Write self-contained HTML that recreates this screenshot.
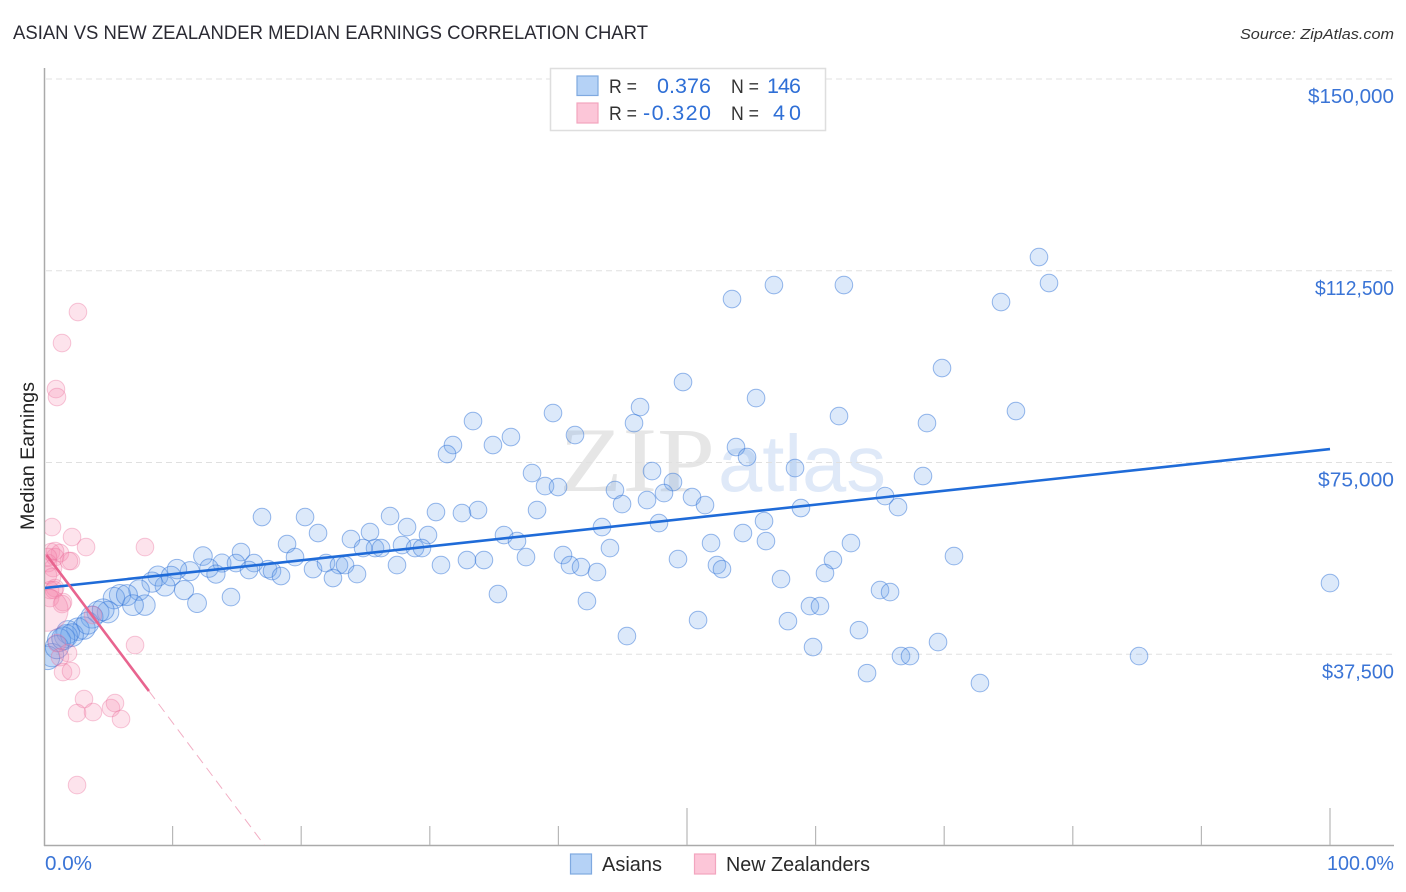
<!DOCTYPE html>
<html>
<head>
<meta charset="utf-8">
<title>Asian vs New Zealander Median Earnings Correlation Chart</title>
<style>
html,body{margin:0;padding:0;background:#fff;}
svg{display:block;font-family:"Liberation Sans",sans-serif;}
</style>
</head>
<body>
<svg id="chart" xmlns="http://www.w3.org/2000/svg" width="1406" height="892" viewBox="0 0 1406 892">
  <defs>
    <clipPath id="plot-clip"><rect x="45" y="60" width="1349" height="785"/></clipPath>
  </defs>
  <rect x="0" y="0" width="1406" height="892" fill="#fff"/>
  <text x="13" y="39" font-size="19" fill="#2a2a33" textLength="635" lengthAdjust="spacingAndGlyphs">ASIAN VS NEW ZEALANDER MEDIAN EARNINGS CORRELATION CHART</text>
  <text x="1394" y="39" font-size="15" font-style="italic" fill="#333" text-anchor="end" textLength="154" lengthAdjust="spacingAndGlyphs">Source: ZipAtlas.com</text>
  <text x="559" y="491" font-family="'Liberation Serif',serif" font-size="92" fill="#e6e6e6" textLength="156" lengthAdjust="spacingAndGlyphs">ZIP</text>
  <text x="718" y="491" font-size="80" fill="#dfe9f8" textLength="168" lengthAdjust="spacingAndGlyphs">atlas</text>
  <g id="grid"></g>
  <g id="axes"></g>
  <g id="marks" clip-path="url(#plot-clip)"></g>
  <g id="ylabels"></g>
  <text x="0" y="0" transform="translate(34,456) rotate(-90)" font-size="19" fill="#222" text-anchor="middle" textLength="148" lengthAdjust="spacingAndGlyphs">Median Earnings</text>
  <text x="45" y="870" font-size="20" fill="#3a74d6" textLength="47" lengthAdjust="spacingAndGlyphs">0.0%</text>
  <text x="1394" y="870" font-size="20" fill="#3a74d6" text-anchor="end" textLength="67" lengthAdjust="spacingAndGlyphs">100.0%</text>

  <g>
    <rect x="550.5" y="68.5" width="275" height="62" fill="#fff" stroke="#dedede" stroke-width="1.5"/>
    <rect x="577" y="76" width="21" height="19.5" fill="#b5d2f6" stroke="#7fa9e0" stroke-width="1.2"/>
    <rect x="577" y="103" width="21" height="20" fill="#fcc6d8" stroke="#f2a5bf" stroke-width="1.2"/>
    <text x="609" y="93" font-size="19" fill="#333" textLength="28" lengthAdjust="spacingAndGlyphs">R =</text>
    <text x="711" y="93" font-size="21.5" fill="#2f6fd6" text-anchor="end" textLength="54" lengthAdjust="spacing">0.376</text>
    <text x="731" y="93" font-size="19" fill="#333" textLength="28" lengthAdjust="spacingAndGlyphs">N =</text>
    <text x="801" y="93" font-size="21.5" fill="#2f6fd6" text-anchor="end" textLength="34" lengthAdjust="spacing">146</text>
    <text x="609" y="120" font-size="19" fill="#333" textLength="28" lengthAdjust="spacingAndGlyphs">R =</text>
    <text x="711" y="120" font-size="21.5" fill="#2f6fd6" text-anchor="end" textLength="68" lengthAdjust="spacing">-0.320</text>
    <text x="731" y="120" font-size="19" fill="#333" textLength="28" lengthAdjust="spacingAndGlyphs">N =</text>
    <text x="801" y="120" font-size="21.5" fill="#2f6fd6" text-anchor="end" textLength="28" lengthAdjust="spacing">40</text>
  </g>

  <g>
    <rect x="570.5" y="854" width="21" height="20" fill="#b5d2f6" stroke="#7fa9e0" stroke-width="1.2"/>
    <text x="602" y="871" font-size="20" fill="#2a2a2a" textLength="60" lengthAdjust="spacingAndGlyphs">Asians</text>
    <rect x="694.5" y="854" width="21" height="20" fill="#fcc6d8" stroke="#f2a5bf" stroke-width="1.2"/>
    <text x="726" y="871" font-size="20" fill="#2a2a2a" textLength="144" lengthAdjust="spacingAndGlyphs">New Zealanders</text>
  </g>
</svg>
<script>
// Axis values
const yTickValues = [150, 112.5, 75, 37.5];
const yTickLabels = ["$150,000", "$112,500", "$75,000", "$37,500"];
const xTickValues = [0, 10, 20, 30, 40, 50, 60, 70, 80, 90, 100];
const xMajorTicks = [50, 100];

// Asians series: share of Asian residents (%) and median earnings ($ thousands)
const asianX = [77.37,78.15,74.42,62.2,56.76,53.5,69.83,49.69,55.37,75.58,61.82,68.66,46.35,45.88,39.58,33.36,36.31,34.91,31.8,31.34,41.29,53.81,54.67,58.4,68.35,37.95,38.96,39.97,44.4,47.28,48.91,50.39,46.89,48.21,44.95,51.4,65.4,66.41,58.86,38.34,33.75,32.5,30.48,26.91,20.3,16.95,28.23,25.35,21.31,29.86,35.77,43.39,47.82,55.99,54.35,56.14,62.75,51.87,36.78,23.87,18.9,44.01,70.76,61.35,49.3,40.36,37.48,32.89,34.21,30.87,27.45,25.74,26.21,24.81,27.84,28.85,29.39,19.52,15.32,12.36,13.84,16.33,14.93,15.94,12.83,11.35,10.34,8.86,9.88,17.42,17.73,18.43,20.92,21.93,22.94,23.41,24.34,22.47,40.9,41.76,43,52.33,52.72,60.73,57.31,65.01,65.79,100,35.3,42.22,59.56,60.34,50.86,57.85,63.37,45.33,69.52,59.8,66.64,67.34,85.15,64,72.78,13.37,10.89,9.41,8.4,7.39,5.91,5.44,6.45,11.9,14.54,7.85,6.92,4.98,4.2,3.73,3.11,2.64,1.87,1.71,2.18,1.17,0.62,0.3,1.0,1.5,3.4,4.6];
const asianY = [115.18,110.1,106.38,109.71,109.71,106.97,93.47,90.73,87.6,85.06,84.08,82.71,85.84,82.71,84.67,83.1,79.98,78.41,78.41,76.65,80.37,78.02,76.06,73.91,72.35,72.93,70.39,70.2,69.61,73.32,71.17,68.24,67.65,69.02,66.87,66.67,68.43,66.28,66.09,65.7,65.7,65.11,65.31,64.52,64.33,64.33,62.37,61.39,61.2,60.81,60.81,62.37,63.15,63.54,61.2,59.63,59.24,59.24,59.63,60.02,59.05,58.26,56.7,55.92,56.11,56.9,56.5,55.92,55.92,54.94,54.94,58.26,58.26,58.26,58.85,58.26,58.26,56.5,57.48,56.7,55.33,55.33,55.33,53.96,54.35,53.76,54.15,52.79,52.79,54.15,53.76,52.79,54.15,55.33,54.94,54.94,53.18,52.4,54.94,54.55,53.57,54.94,54.15,53.37,52.2,50.05,49.66,51.42,49.27,47.9,46.92,46.92,44.18,43.98,42.22,41.05,39.88,38.9,37.14,37.14,37.14,33.81,31.86,53.18,50.05,50.83,51.61,50.05,49.07,48.48,49.07,47.51,48.68,47.11,47.11,45.75,45.75,44.77,42.62,42.42,41.83,41.05,41.25,40.27,37.33,36.8,38.9,40.6,43.6,46.2];

// New Zealanders series
const nzX = [2.64,1.4,0.93,1.01,0.62,2.18,3.27,7.85,0.54,1.24,0.86,0.86,2.1,1.94,0.31,0.7,0.62,0.31,0.86,0.47,0.78,0.47,1.48,1.4,0.23,3.81,7.08,1.01,1.87,1.24,1.48,2.1,3.11,2.57,3.81,5.21,5.52,5.99,2.57,0.31];
const nzY = [104.43,98.36,89.36,87.8,62.37,60.42,58.46,58.46,57.48,57.29,57.68,56.5,55.72,55.72,55.33,54.35,52.59,52.98,50.44,50.05,50.05,48.48,47.7,47.31,46.13,45.16,39.29,39.68,37.73,36.94,34.01,34.2,28.73,25.99,26.19,26.97,27.95,24.82,11.91,56.5];
// relative population weight of each New Zealander point
const nzWeights = [1,1,1,1,1,1,1,1,1,1,1,1,1,1,1,1,1,1,1,1,1,1,1,1,2.4,1,1,1,1,1,1,1,1,1,1,1,1,1,1,1];

// Trend lines
const asianTrendX = [0, 100];
const asianTrendY = [50.44, 77.63];
const nzTrendSolidX = [0.2, 8.16];
const nzTrendSolidY = [56.9, 30.3];
const nzTrendDashX = [8.16, 17.19];
const nzTrendDashY = [30.3, 0];

const NS = 'http://www.w3.org/2000/svg';
function xScale(v) { return 44 + v * 12.86; }
function yScale(v) { return 846 - v * (767 / 150); }
function make(tag, parent, attrs) {
  const el = document.createElementNS(NS, tag);
  for (const k in attrs) el.setAttribute(k, attrs[k]);
  parent.appendChild(el);
  return el;
}
function asianRadius(x) { return x < 14 ? 9 + (14 - x) * 0.2 : 8.8; }
const yLabelWidths = [86, 79, 76, 72];

const grid = document.getElementById('grid');
const axes = document.getElementById('axes');
const marks = document.getElementById('marks');
const ylabels = document.getElementById('ylabels');

yTickValues.forEach(function (v, i) {
  const line = make('line', grid, { x1: 46, x2: 1394, y1: yScale(v), y2: yScale(v), stroke: '#e0e0e0', 'stroke-width': 1, 'stroke-dasharray': '6 4' });
  
  
  const label = make('text', ylabels, { x: 1394, y: yScale(v) + 24, 'font-size': 20, fill: '#3a74d6', 'text-anchor': 'end', textLength: yLabelWidths[i], lengthAdjust: 'spacingAndGlyphs' });
  label.textContent = yTickLabels[i];
  
  
});

const yAxis = make('line', axes, { x1: 44.5, x2: 44.5, y1: 68, y2: 846, stroke: '#aaaaaa', 'stroke-width': 1.5 });


const xAxis = make('line', axes, { x1: 44, x2: 1394, y1: 845.5, y2: 845.5, stroke: '#aaaaaa', 'stroke-width': 1.5 });


xTickValues.forEach(function (v) {
  if (v === 0) return;
  const top = xMajorTicks.indexOf(v) >= 0 ? 808 : 826;
  const tick = make('line', axes, { x1: xScale(v), x2: xScale(v), y1: top, y2: 845, stroke: '#b8b8b8', 'stroke-width': 1.2 });
  
  
});

asianX.forEach(function (x, i) {
  const c = make('circle', marks, { cx: xScale(x), cy: yScale(asianY[i]), r: asianRadius(x), fill: 'rgba(110,165,235,0.24)', stroke: 'rgba(50,115,215,0.5)', 'stroke-width': 1 });
  
  
});
nzX.forEach(function (x, i) {
  const c = make('circle', marks, { cx: xScale(x), cy: yScale(nzY[i]), r: 8.8 * nzWeights[i], fill: 'rgba(245,140,175,0.24)', stroke: 'rgba(235,110,155,0.38)', 'stroke-width': 1 });
  
  
});

const asianTrend = make('line', marks, { x1: xScale(asianTrendX[0]), y1: yScale(asianTrendY[0]), x2: xScale(asianTrendX[1]), y2: yScale(asianTrendY[1]), stroke: '#1f6bd8', 'stroke-width': 2.6 });


const nzSolid = make('line', marks, { x1: xScale(nzTrendSolidX[0]), y1: yScale(nzTrendSolidY[0]), x2: xScale(nzTrendSolidX[1]), y2: yScale(nzTrendSolidY[1]), stroke: '#e8648f', 'stroke-width': 2.6 });


const nzDash = make('line', marks, { x1: xScale(nzTrendDashX[0]), y1: yScale(nzTrendDashY[0]), x2: xScale(nzTrendDashX[1]), y2: yScale(nzTrendDashY[1]), stroke: '#f2aec4', 'stroke-width': 1, 'stroke-dasharray': '10 6' });


</script>
</body>
</html>
